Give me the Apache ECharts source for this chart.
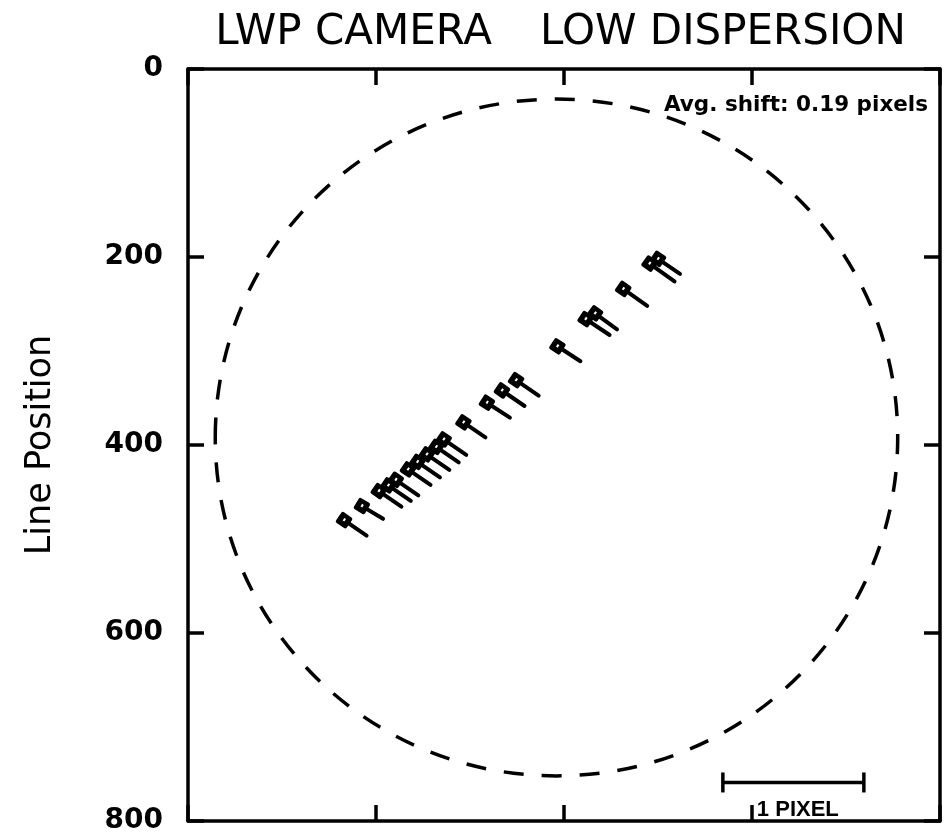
<!DOCTYPE html>
<html>
<head>
<meta charset="utf-8">
<title>LWP CAMERA LOW DISPERSION</title>
<script src="https://cdn.jsdelivr.net/npm/echarts@6/dist/echarts.min.js"></script>
<style>
html, body { margin: 0; padding: 0; background: #fff; }
#main { width: 944px; height: 835px; }
</style>
</head>
<body>
<div id="main"></div>
<script>
// line positions (sample, line) of the calibration lines
var lineX = [166, 185, 203, 213, 221, 234, 244, 254, 264, 272, 293, 318, 334, 349, 393, 423, 433, 463, 491, 500];
var lineY = [480, 465, 449, 443, 437, 426, 418, 410, 402, 394, 376, 355, 342, 331, 295, 266, 260, 234, 207, 202];
// measured shift of each line, in pixels
var shiftX = [0.16, 0.15, 0.16, 0.16, 0.16, 0.16, 0.16, 0.16, 0.16, 0.16, 0.156, 0.163, 0.16, 0.16, 0.163, 0.17, 0.156, 0.17, 0.177, 0.156];
var shiftY = [0.11, 0.09, 0.11, 0.11, 0.11, 0.11, 0.11, 0.11, 0.11, 0.11, 0.106, 0.106, 0.11, 0.11, 0.106, 0.113, 0.113, 0.12, 0.127, 0.106];
var avgShift = 0.19;
// camera field: centre x, centre y, radius x, radius y
var fieldCircle = [392, 392, 363, 360];
// 1 pixel scale bar: start x, y, length in pixels
var scaleBar = [569, 759, 1];
var axisTicks = [0, 200, 400, 600, 800];
var pixScale = 150; // plot units drawn for a shift of 1 pixel

function inite() {
	var chart = echarts.init(document.getElementById('main'));
	var vectors = [];
	for (var i = 0; i < lineX.length; i++) {
		vectors.push([lineX[i], lineY[i], shiftX[i], shiftY[i]]);
	}

	var axisBase = {
		type: 'value',
		min: axisTicks[0],
		max: axisTicks[axisTicks.length - 1],
		interval: axisTicks[1] - axisTicks[0],
		axisLine: { show: true, onZero: false, lineStyle: { color: '#000', width: 3.5 } },
		axisTick: { show: true, inside: true, length: 16, lineStyle: { color: '#000', width: 3.5 } },
		axisLabel: { show: false },
		splitLine: { show: false }
	};

	chart.setOption({
		animation: false,
		backgroundColor: '#fff',
		grid: { left: 188, top: 69, width: 752, height: 757 },
		xAxis: [
			extend(axisBase, { position: 'bottom' }),
			extend(axisBase, { position: 'top' })
		],
		yAxis: [
			extend(axisBase, {
				position: 'left',
				inverse: true,
				axisLabel: {
					show: true,
					margin: 25,
					color: '#000',
					fontSize: 28,
					fontWeight: 'bold',
					fontFamily: 'DejaVu Sans',
					padding: [0, 0, 16, 0]
				},
				name: 'Line Position',
				nameLocation: 'middle',
				nameGap: 130,
				nameTextStyle: { color: '#000', fontSize: 35, fontFamily: 'DejaVu Sans' }
			}),
			extend(axisBase, { position: 'right', inverse: true })
		],
		graphic: [
			{ type: 'text', x: 492, y: 33, style: { text: 'LWP CAMERA', fill: '#000', font: '42px "DejaVu Sans"', align: 'right', verticalAlign: 'middle' } },
			{ type: 'text', x: 540, y: 33, style: { text: 'LOW DISPERSION', fill: '#000', font: '42px "DejaVu Sans"', verticalAlign: 'middle' } },
			{ type: 'text', x: 928, y: 105, style: { text: 'Avg. shift: ' + avgShift + ' pixels', fill: '#000', font: 'bold 21.5px "DejaVu Sans"', align: 'right', verticalAlign: 'middle' } }
		],
		series: [
			{
				type: 'custom',
				coordinateSystem: 'cartesian2d',
				silent: true,
				data: [fieldCircle],
				renderItem: function(params, api) {
					var c = api.coord([api.value(0), api.value(1)]);
					var s = api.size([api.value(2), api.value(3)]);
					return {
						type: 'ellipse',
						shape: { cx: c[0], cy: c[1], rx: s[0], ry: s[1] },
						style: { fill: 'none', stroke: '#000', lineWidth: 3.5, lineDash: [20, 18] }
					};
				}
			},
			{
				type: 'custom',
				coordinateSystem: 'cartesian2d',
				silent: true,
				data: vectors,
				renderItem: function(params, api) {
					var x = api.value(0), y = api.value(1);
					var p0 = api.coord([x, y]);
					var p1 = api.coord([x + api.value(2) * pixScale, y + api.value(3) * pixScale]);
					var ang = Math.atan2(p1[1] - p0[1], p1[0] - p0[0]);
					return {
						type: 'group',
						children: [
							{
								type: 'line',
								shape: { x1: p0[0], y1: p0[1], x2: p1[0], y2: p1[1] },
								style: { stroke: '#000', lineWidth: 4, lineCap: 'round' }
							},
							{
								type: 'rect',
								x: p0[0], y: p0[1], rotation: -ang,
								shape: { x: -6.5, y: -6.5, width: 13, height: 13, r: 2 },
								style: { fill: '#000' }
							},
							{
								type: 'rect',
								x: p0[0], y: p0[1], rotation: -ang,
								shape: { x: -1, y: -2, width: 2, height: 3 },
								style: { fill: '#fff' }
							}
						]
					};
				}
			},
			{
				type: 'custom',
				coordinateSystem: 'cartesian2d',
				silent: true,
				data: [scaleBar],
				renderItem: function(params, api) {
					var x = api.value(0), y = api.value(1);
					var a = api.coord([x, y]);
					var b = api.coord([x + api.value(2) * pixScale, y]);
					return {
						type: 'group',
						children: [
							{ type: 'line', shape: { x1: a[0], y1: a[1], x2: b[0], y2: b[1] }, style: { stroke: '#000', lineWidth: 3.5 } },
							{ type: 'line', shape: { x1: a[0], y1: a[1] - 10, x2: a[0], y2: a[1] + 10 }, style: { stroke: '#000', lineWidth: 3.5 } },
							{ type: 'line', shape: { x1: b[0], y1: b[1] - 10, x2: b[0], y2: b[1] + 10 }, style: { stroke: '#000', lineWidth: 3.5 } },
							{ type: 'text', x: a[0] + 34, y: a[1] + 27, style: { text: '1 PIXEL', fill: '#000', font: 'bold 22px "Liberation Sans"', verticalAlign: 'middle' } }
						]
					};
				}
			}
		]
	});
}

function extend(base, extra) {
	var out = JSON.parse(JSON.stringify(base));
	for (var k in extra) {
		out[k] = extra[k];
	}
	return out;
}

inite();
</script>
</body>
</html>
